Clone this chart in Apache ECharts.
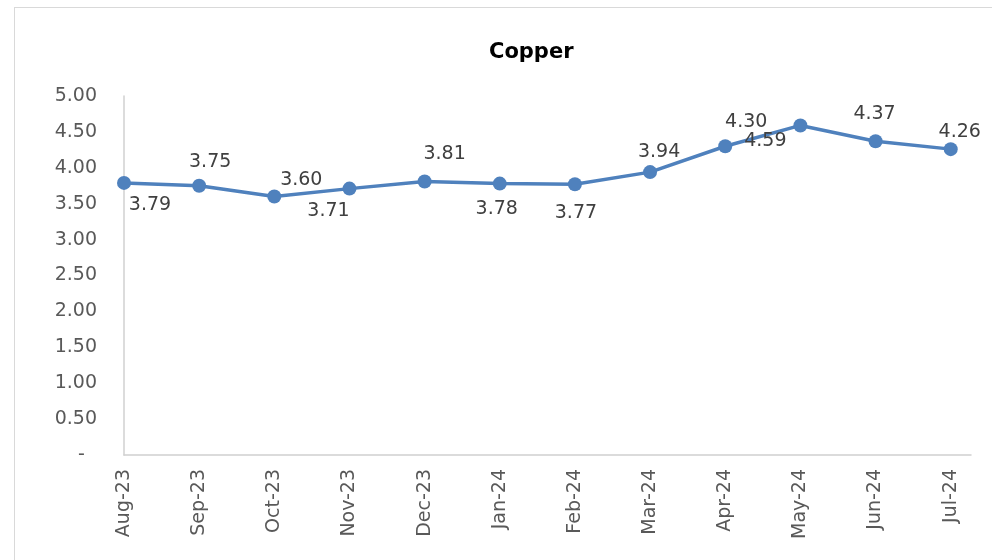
<!DOCTYPE html>
<html>
<head>
<meta charset="utf-8">
<script src="https://cdn.jsdelivr.net/npm/echarts@6/dist/echarts.min.js"></script>
<style>
  html, body { margin: 0; padding: 0; background: #fff; }
  #wrap { position: relative; width: 992px; height: 560px; overflow: hidden; background: #fff; }
  #frame { position: absolute; left: 14px; top: 7px; width: 1000px; height: 600px; border: 1px solid #d9d9d9; box-sizing: border-box; }
  #chart { position: absolute; left: 0; top: 0; width: 992px; height: 560px; }
</style>
</head>
<body>
<div id="wrap">
  <div id="frame"></div>
  <div id="chart"></div>
</div>
<script>
const months = ['Aug-23','Sep-23','Oct-23','Nov-23','Dec-23','Jan-24','Feb-24','Mar-24','Apr-24','May-24','Jun-24','Jul-24'];
const copper = [3.79, 3.75, 3.60, 3.71, 3.81, 3.78, 3.77, 3.94, 4.30, 4.59, 4.37, 4.26];
const yTicks = [0, 0.5, 1, 1.5, 2, 2.5, 3, 3.5, 4, 4.5, 5];

// label offsets (styling only, relative to each point)
const labelOffsets = [[26,22],[11,-24],[27,-16],[-21,22],[20,-27],[-3,25],[1,29],[9,-20],[21,-24],[-35,16],[-1,-27],[9,-17]];

const FONT = 'DejaVu Sans';
const chart = echarts.init(document.getElementById('chart'), null, {renderer: 'canvas'});

const seriesData = copper.map((v, i) => ({
  value: [i, v],
  label: { offset: labelOffsets[i] }
}));

chart.setOption({
  backgroundColor: 'transparent',
  animation: false,
  title: {
    text: 'Copper',
    left: 484,
    top: 37,
    textStyle: { fontFamily: FONT, fontWeight: 'bold', fontSize: 21, color: '#000' }
  },
  grid: { left: 124, right: 21, top: 96, bottom: 105, containLabel: false },
  xAxis: {
    type: 'value',
    min: 0,
    max: 11.27,
    interval: 1,
    axisLine: { show: true, onZero: false, lineStyle: { color: '#d0d0d0', width: 1.5 } },
    axisTick: { show: false },
    splitLine: { show: false },
    axisLabel: {
      rotate: 90,
      margin: 14,
      showMaxLabel: false,
      fontFamily: FONT, fontSize: 19, color: '#595959',
      formatter: v => (Number.isInteger(v) && months[v]) ? months[v] : ''
    }
  },
  yAxis: {
    type: 'value',
    min: yTicks[0],
    max: yTicks[yTicks.length - 1],
    interval: 0.5,
    axisLine: { show: true, lineStyle: { color: '#d0d0d0', width: 1.5 } },
    axisTick: { show: false },
    splitLine: { show: false },
    axisLabel: {
      margin: 27,
      fontFamily: FONT, fontSize: 19, color: '#595959',
      formatter: v => v === 0 ? '-  ' : v.toFixed(2)
    }
  },
  series: [{
    type: 'line',
    data: seriesData,
    symbol: 'circle',
    symbolSize: 14,
    lineStyle: { color: '#4f81bd', width: 3.5 },
    itemStyle: { color: '#4f81bd' },
    label: {
      show: true,
      position: 'inside',
      align: 'center',
      verticalAlign: 'middle',
      fontFamily: FONT, fontSize: 19, color: '#404040',
      formatter: p => p.value[1].toFixed(2)
    }
  }]
});
</script>
</body>
</html>
